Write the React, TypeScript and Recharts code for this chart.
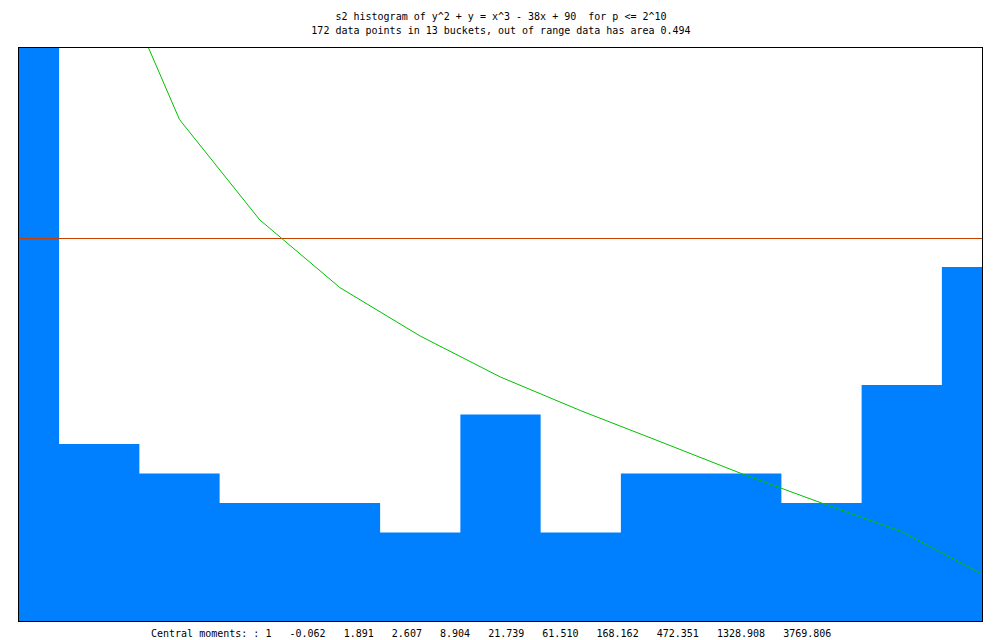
import React from 'react';
import { ComposedChart, Area, Line, XAxis, YAxis, ReferenceLine } from 'recharts';

// bucket index (centres), counts per bucket, expected curve
const buckets = [0, 1, 2, 3, 4, 5, 6, 7, 8, 9, 10, 11, 12];
const counts = [20, 6, 5, 4, 4, 3, 7, 3, 5, 5, 4, 8, 12];
const expected = [36, 23.3, 17.0, 13.6, 11.3, 9.66, 8.27, 7.13, 6.07, 5.0, 4.0, 3.03, 1.59];
const meanLevel = 12.98;
const yMax = 19.46;

const titleLines = [
  's2 histogram of y^2 + y = x^3 - 38x + 90  for p <= 2^10',
  '172 data points in 13 buckets, out of range data has area 0.494',
];
const moments = ['1', '-0.062', '1.891', '2.607', '8.904', '21.739', '61.510', '168.162', '472.351', '1328.908', '3769.806'];

const data = buckets.map((b, i) => ({ bucket: b, count: counts[i], expected: expected[i] }));

const textStyle: React.CSSProperties = {
  position: 'absolute',
  fontFamily: '"DejaVu Sans Mono", monospace',
  fontSize: 10,
  lineHeight: '14px',
  whiteSpace: 'pre',
  color: '#000',
};

const App: React.FC = () => {
  return (
    <div style={{ position: 'absolute', left: 0, top: 0, width: 1000, height: 640, background: '#fff' }}>
      <div style={{ ...textStyle, top: 10, left: 0, width: 1002, textAlign: 'center' }}>{titleLines[0]}</div>
      <div style={{ ...textStyle, top: 24, left: 0, width: 1002, textAlign: 'center' }}>{titleLines[1]}</div>
      <ComposedChart width={1000} height={640} data={data} margin={{ top: 47, right: 18, bottom: 19, left: 19 }}>
        <XAxis dataKey="bucket" type="number" domain={[0, 12]} hide />
        <YAxis type="number" domain={[0, yMax]} allowDataOverflow hide />
        <Area
          type="step"
          dataKey="count"
          stroke="none"
          fill="#0080ff"
          fillOpacity={1}
          isAnimationActive={false}
        />
        <ReferenceLine y={meanLevel} stroke="#c84000" strokeWidth={1} shapeRendering="crispEdges" />
        <Line
          type="linear"
          dataKey="expected"
          stroke="#00c000"
          strokeWidth={1}
          dot={false}
          isAnimationActive={false}
        />
      </ComposedChart>
      {/* plot frame */}
      <div
        style={{
          position: 'absolute',
          left: 18,
          top: 47,
          width: 965,
          height: 575,
          border: '1px solid #000',
          boxSizing: 'border-box',
          pointerEvents: 'none',
        }}
      />
      <div style={{ ...textStyle, top: 627, left: 151 }}>{'Central moments: : ' + moments.join('   ')}</div>
    </div>
  );
};

export default App;
